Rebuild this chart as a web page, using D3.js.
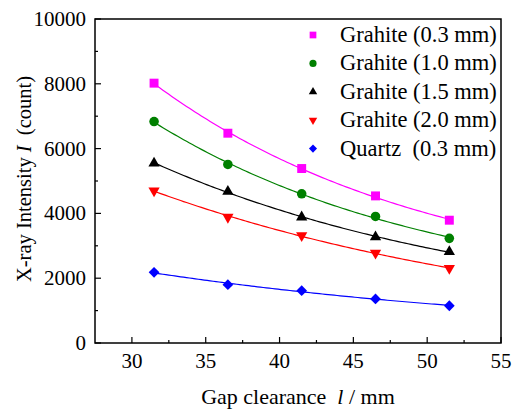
<!DOCTYPE html>
<html>
<head>
<meta charset="utf-8">
<script src="https://cdn.jsdelivr.net/npm/d3@7"></script>
<style>
  html, body { margin: 0; padding: 0; background: #fff; }
  svg text { font-family: "Liberation Serif", "Times New Roman", serif; fill: #000; white-space: pre; }
</style>
</head>
<body>
<div id="plot"></div>
<script>
// gap clearance (mm)
const gaps = [31.5, 36.5, 41.5, 46.5, 51.5];

// intensities
const graphite03 = [8020, 6475, 5385, 4540, 3790];
const graphite10 = [6835, 5510, 4605, 3905, 3230];
const graphite15 = [5550, 4675, 3885, 3270, 2815];
const graphite20 = [4700, 3885, 3320, 2775, 2305];
const quartz03 = [2180, 1800, 1615, 1360, 1150];

const seriesNames = ["Grahite (0.3 mm)", "Grahite (1.0 mm)", "Grahite (1.5 mm)", "Grahite (2.0 mm)", "Quartz  (0.3 mm)"];
const seriesValues = [graphite03, graphite10, graphite15, graphite20, quartz03];
const seriesColors = ["#ff00ff", "#008000", "#000000", "#ff0000", "#0000ff"];
const seriesShapes = ["square", "circle", "triangle", "triangleDown", "diamond"];

const xTicks = [30, 35, 40, 45, 50, 55];
const yTicks = [0, 2000, 4000, 6000, 8000, 10000];

const width = 512, height = 409;
const margin = { top: 19, right: 11, bottom: 66, left: 95 };
const innerW = width - margin.left - margin.right;
const innerH = height - margin.top - margin.bottom;

const svg = d3.select("#plot").append("svg")
    .attr("width", width)
    .attr("height", height);

const content = svg.append("g")
    .attr("transform", "translate(" + margin.left + "," + margin.top + ")");

const xScale = d3.scaleLinear().domain([27.5, 55]).range([0, innerW]);
const yScale = d3.scaleLinear().domain([0, 10000]).range([innerH, 0]);

// exponential decay fit y = y0 + A*exp(-x/t), t by grid search, y0/A by least squares
function expFit(xs, ys) {
    let best = null;
    for (let t = 2; t <= 300; t += 0.05) {
        const e = xs.map(x => Math.exp(-x / t));
        const n = xs.length;
        const se = d3.sum(e), sy = d3.sum(ys);
        const see = d3.sum(e, v => v * v);
        const sey = d3.sum(e.map((v, i) => v * ys[i]));
        const det = n * see - se * se;
        const A = (n * sey - se * sy) / det;
        const y0 = (sy - A * se) / n;
        const err = d3.sum(xs.map((x, i) => (y0 + A * e[i] - ys[i]) ** 2));
        if (!best || err < best.err) best = { t, A, y0, err };
    }
    return x => best.y0 + best.A * Math.exp(-x / best.t);
}

function symbolPath(shape, scale) {
    switch (shape) {
        case "square": return d3.symbol(d3.symbolSquare, 80 * scale * scale)();
        case "circle": return d3.symbol(d3.symbolCircle, 72 * scale * scale)();
        case "triangle":
        case "triangleDown": return d3.symbol(d3.symbolTriangle, 55 * scale * scale)();
        case "diamond": return d3.symbol(d3.symbolSquare, 58 * scale * scale)();
    }
}

function symbolRotate(shape) {
    if (shape === "triangleDown") return " rotate(180)";
    if (shape === "diamond") return " rotate(45)";
    return "";
}

// fitted curves
const line = d3.line().x(d => xScale(d[0])).y(d => yScale(d[1]));
const xs = d3.range(0, 101).map(i => gaps[0] + (gaps[gaps.length - 1] - gaps[0]) * i / 100);

seriesValues.forEach((vals, k) => {
    const f = expFit(gaps, vals);
    content.append("path")
        .datum(xs.map(x => [x, f(x)]))
        .attr("d", line)
        .attr("fill", "none")
        .attr("stroke", seriesColors[k])
        .attr("stroke-width", 1.2);
});

// markers
seriesValues.forEach((vals, k) => {
    content.append("g")
        .selectAll("path")
        .data(vals)
        .join("path")
        .attr("d", symbolPath(seriesShapes[k], 1))
        .attr("transform", (d, i) => "translate(" + xScale(gaps[i]) + "," + yScale(d) + ")" + symbolRotate(seriesShapes[k]))
        .attr("fill", seriesColors[k]);
});

// frame
content.append("rect")
    .attr("width", innerW)
    .attr("height", innerH)
    .attr("fill", "none")
    .attr("stroke", "#000")
    .attr("stroke-width", 1.5);

// axes with inward ticks
const xAxis = content.append("g")
    .attr("transform", "translate(0," + innerH + ")");
xAxis.selectAll(".major")
    .data(xTicks)
    .join("line")
    .attr("x1", d => xScale(d)).attr("x2", d => xScale(d))
    .attr("y1", 0).attr("y2", -6)
    .attr("stroke", "#000").attr("stroke-width", 1.2);
xAxis.selectAll(".minor")
    .data(xTicks.slice(0, -1).map(d => d + 2.5))
    .join("line")
    .attr("x1", d => xScale(d)).attr("x2", d => xScale(d))
    .attr("y1", 0).attr("y2", -3)
    .attr("stroke", "#000").attr("stroke-width", 1.2);
xAxis.selectAll("text")
    .data(xTicks)
    .join("text")
    .attr("x", d => xScale(d))
    .attr("y", 25)
    .attr("text-anchor", "middle")
    .attr("font-size", 21)
    .text(d => d);

const yAxis = content.append("g");
yAxis.selectAll(".major")
    .data(yTicks)
    .join("line")
    .attr("x1", 0).attr("x2", 6)
    .attr("y1", d => yScale(d)).attr("y2", d => yScale(d))
    .attr("stroke", "#000").attr("stroke-width", 1.2);
yAxis.selectAll(".minor")
    .data(yTicks.slice(0, -1).map(d => d + 1000))
    .join("line")
    .attr("x1", 0).attr("x2", 3)
    .attr("y1", d => yScale(d)).attr("y2", d => yScale(d))
    .attr("stroke", "#000").attr("stroke-width", 1.2);
yAxis.selectAll("text")
    .data(yTicks)
    .join("text")
    .attr("x", -9)
    .attr("y", d => yScale(d) + 7)
    .attr("text-anchor", "end")
    .attr("font-size", 21)
    .text(d => d);

// axis labels
const xLabel = content.append("text")
    .attr("x", innerW / 2)
    .attr("y", innerH + 61)
    .attr("text-anchor", "middle")
    .attr("font-size", 22);
xLabel.append("tspan").text("Gap clearance  ");
xLabel.append("tspan").attr("font-style", "italic").text("l");
xLabel.append("tspan").text(" / mm");

const yLabel = content.append("text")
    .attr("transform", "rotate(-90)")
    .attr("x", -(innerH / 2) + 2)
    .attr("y", -64)
    .attr("text-anchor", "middle")
    .attr("font-size", 20.5);
yLabel.append("tspan").text("X-ray Intensity ");
yLabel.append("tspan").attr("font-style", "italic").text("I");
yLabel.append("tspan").text("  (count)");

// legend
const legend = content.append("g")
    .attr("transform", "translate(" + (313 - margin.left) + "," + (35 - margin.top) + ")");
seriesNames.forEach((name, k) => {
    const row = legend.append("g").attr("transform", "translate(0," + k * 28.4 + ")");
    row.append("path")
        .attr("d", symbolPath(seriesShapes[k], 0.75))
        .attr("transform", "translate(0,0)" + symbolRotate(seriesShapes[k]))
        .attr("fill", seriesColors[k]);
    row.append("text")
        .attr("x", 27)
        .attr("y", 7)
        .attr("font-size", 22.5)
        .text(name);
});
</script>
</body>
</html>
